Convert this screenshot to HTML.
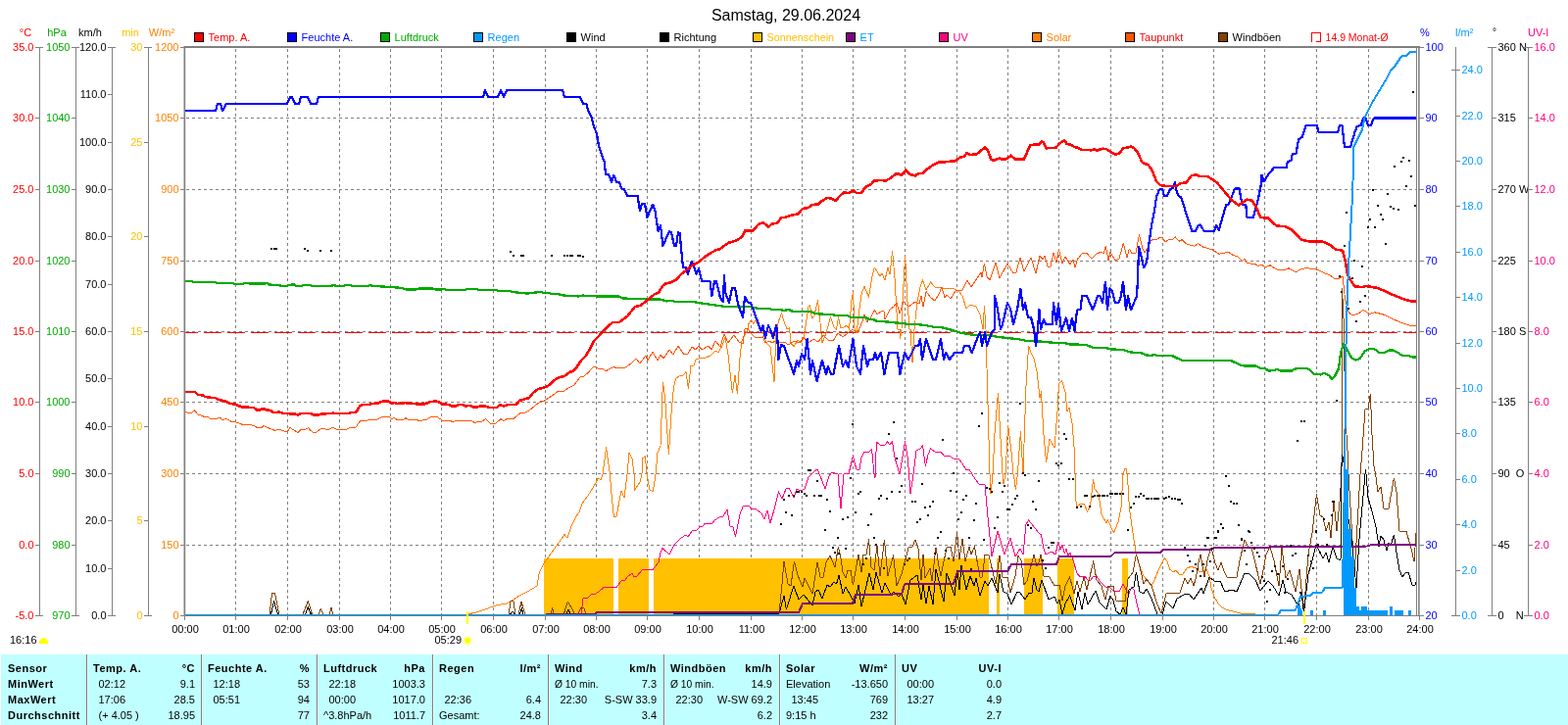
<!DOCTYPE html>
<html lang="de"><head><meta charset="utf-8"><title>Samstag, 29.06.2024</title>
<style>html,body{margin:0;padding:0;background:#fff;overflow:hidden}svg{display:block;font-family:"Liberation Sans",sans-serif;font-size:11px}text{white-space:pre}.c{shape-rendering:crispEdges}.p{fill:none;stroke-linejoin:round;stroke-linecap:butt;shape-rendering:crispEdges}</style></head><body>
<svg width="1600" height="740" viewBox="0 0 1600 740">
<rect x="0" y="0" width="1600" height="740" fill="#fff" />
<text x="802" y="21" fill="#000" text-anchor="middle" font-size="16" xml:space="preserve" >Samstag, 29.06.2024</text>
<g class="c" stroke="#808080" stroke-width="1" stroke-dasharray="3,3">
<line x1="240.5" y1="50" x2="240.5" y2="628"/>
<line x1="293.5" y1="50" x2="293.5" y2="628"/>
<line x1="346.5" y1="50" x2="346.5" y2="628"/>
<line x1="398.5" y1="50" x2="398.5" y2="628"/>
<line x1="450.5" y1="50" x2="450.5" y2="628"/>
<line x1="503.5" y1="50" x2="503.5" y2="628"/>
<line x1="556.5" y1="50" x2="556.5" y2="628"/>
<line x1="608.5" y1="50" x2="608.5" y2="628"/>
<line x1="660.5" y1="50" x2="660.5" y2="628"/>
<line x1="713.5" y1="50" x2="713.5" y2="628"/>
<line x1="766.5" y1="50" x2="766.5" y2="628"/>
<line x1="818.5" y1="50" x2="818.5" y2="628"/>
<line x1="870.5" y1="50" x2="870.5" y2="628"/>
<line x1="923.5" y1="50" x2="923.5" y2="628"/>
<line x1="976.5" y1="50" x2="976.5" y2="628"/>
<line x1="1028.5" y1="50" x2="1028.5" y2="628"/>
<line x1="1080.5" y1="50" x2="1080.5" y2="628"/>
<line x1="1133.5" y1="50" x2="1133.5" y2="628"/>
<line x1="1186.5" y1="50" x2="1186.5" y2="628"/>
<line x1="1238.5" y1="50" x2="1238.5" y2="628"/>
<line x1="1290.5" y1="50" x2="1290.5" y2="628"/>
<line x1="1343.5" y1="50" x2="1343.5" y2="628"/>
<line x1="1396.5" y1="50" x2="1396.5" y2="628"/>
<line x1="190" y1="120.5" x2="1446" y2="120.5"/>
<line x1="190" y1="193.5" x2="1446" y2="193.5"/>
<line x1="190" y1="266.5" x2="1446" y2="266.5"/>
<line x1="190" y1="338.5" x2="1446" y2="338.5"/>
<line x1="190" y1="410.5" x2="1446" y2="410.5"/>
<line x1="190" y1="483.5" x2="1446" y2="483.5"/>
<line x1="190" y1="556.5" x2="1446" y2="556.5"/>
</g>
<g class="c" fill="#FFC000">
<rect x="555" y="570" width="71" height="58"/>
<rect x="631" y="570" width="31" height="58"/>
<rect x="667" y="570" width="342" height="58"/>
<rect x="1017" y="570" width="3" height="58"/>
<rect x="1045" y="570" width="19" height="58"/>
<rect x="1079" y="570" width="17" height="58"/>
<rect x="1145" y="570" width="6" height="58"/>
</g>
<line class="c" x1="188" y1="339.5" x2="1445" y2="339.5" stroke="#FF0000" stroke-width="1" stroke-dasharray="18,6" stroke-dashoffset="4"/>
<polyline class="p" points="477,627 486,625 496,621.6 507,617.6 517,616 524,612 530,608 538,604 548,598 550.4,584 555,575 560,568 568,557 576,545.6 579,549 583,537 588,527 591,523 594,514 600,506 608,493 610,488 613,489.6 615,484 618.6,456.6 622.4,484 624,504 626.4,528 629,527 634,501 637,508 640,484 642,462.4 645,468 647,484 647,501 653,492 655,484 655.6,468 658.4,465.6 660,484 663,500 666.4,501.6 669,484 671,462 674,455 676.4,390 678.6,406 682.4,464 685,422 687.6,394 690,386 693,384 697,383 700,379.6 702.4,397 705,373 708,373 710,367 713,366 720,365 725,363 730,358 733,359.6 737,353 740,344 743,362 747.4,401 750,383 752.4,402 755,365 757,348 760,342 763,336 763,332 766.5,326.5 768.5,330 771,327 774,333 778,338 782,350 786,354 790,390 791.2,360 792,338 794.5,328 797.5,319.5 800,328 803,336 805.5,334.5 807,350 810,354 814,347 817,350 820,346 822.5,330 825,313 826.5,311.5 828.5,325 831,322 834.5,306.5 836,320 837.5,334 839,350 843,340 847.5,323.5 851,334 853.5,336 855.5,323.5 857.5,334 860,335 864,332 866.5,336 869,306 870.5,298.5 872,335 874,340 877,315 879.5,298 882,292.5 886.5,303 890,282 892.4,273 898,282 900,279 903,286 906,273 908,280 910.6,256 913,284 916,336 918,336 918.6,346 920,336 921,308 923.6,261 926,308 928,336 929,336 931,370 933,336 936,308 939,293 941.6,286 945,296 949.6,288 954,293 960,293 963,295 972,294 978,297 982,302 986,315 990,311 996,313 1000,321 1003,336 1004.4,312 1006,336 1007,376 1010,484 1010.4,484 1011,504 1013,484 1015,442 1018.4,401 1023,484 1024,494 1026,484 1028.6,434 1032.4,464 1034,484 1034.4,484 1036.4,500 1038.4,484 1041.4,440 1044,483 1047,394 1049.6,353 1052,360 1055,366 1058,379 1061,406 1062.4,400 1065,444 1067.6,472 1071,448 1076,457 1079,420 1080.4,392 1083.6,388.4 1087,400 1089,420 1091,416 1094,432 1096,456 1097,484 1097,506 1099,517 1103,514 1106,514 1109.6,522 1112.4,517 1115.6,489 1117,499 1121,504 1124,525 1129,534 1130.4,530.4 1136.4,544 1141,533 1144,518 1146,484 1146.5,484 1147.5,478 1149,478 1150,484 1150.4,484 1152.4,519 1156,544 1159,564 1163,579 1167,588 1171,593 1175,598 1178,592 1182,582 1185.6,575 1188.4,569.6 1191,573 1193.6,581 1197,584 1200,582 1203,586 1207,586 1211,580 1215,578.4 1220,579.6 1224,584 1228,583 1231,581 1234,588 1236,600 1239,609 1243,616 1247,620 1252,622.4 1260,624.4 1268,626.4 1281,627" stroke="#FF8000" stroke-width="1"/>
<polyline class="p" points="557,627.6 593,627 595,611 600,610 603,607 607,606.4 611,604 616,599.6 629,599.4 634,593 638,592 640,589 645,585 647,588.4 650,588 655,582 666,581.4 672,574 674,564 676,559.6 683,566 688,556 695,549 700,546 702,548 706,542 711,541 714,537.6 717,537 719,534.6 727,534 729,531 735,527.4 738,527 742,520 745,537 748,538 750.4,548 755,525 758,517 760,516 764,516 767,519.6 772,520 777,524 780,529.6 783,521 786,534 790,520 794.4,502 798,509 802,499 805,498 810,508 813,499 817,501 821,499 825,487 828,484 830,482 834,479 837,486 839,491 842,499 846,486 849,482 852,483 855,484 858,519 861,484 866,483.6 870.4,466 874,479 877,479 879,467 882,461 887,461 889.6,458.4 892,484 893,488 894.4,451 898,454 903,454 905.6,451 908,454 910.4,450.4 913,467 918,484 921,466 923.6,451 926,466 927.6,484 929,504 932,484 935,460 939,458 941.6,455 944.4,476 947,464 949.6,458 954,461 960,461 963,465 969,465.6 973,468 978,468 982,473 986,480 989,479 992,484 995,489 999,494 1005,495 1008,528 1012,568 1018,542 1025,566 1031,549 1036,568 1041,560 1044,566 1047,535 1049.6,531 1060,544 1062.4,546 1065,560 1067,566 1073,563 1077,566 1080,553 1082,561 1084,556 1086.4,565 1088,560 1090,567 1092,564 1095,572 1099,585 1102,589 1107,588.4 1110,592 1113,592 1116,588 1119,588 1122,593 1128,599 1132,599 1137,604 1142,603.6 1146,596 1150,604 1152,606 1154.4,599.6 1157,602 1160,616 1163,627.4" stroke="#FF0080" stroke-width="1"/>
<polyline class="p" points="275,627.75 277.5,605.75 280.5,605.75 285,627.75 308.75,627.75 314.25,613.75 318.75,627.75 325,627.75 327.5,621.25 330,627.75 335.75,627.75 338,620.5 340,627.75 519,627.6 521,614 524,613.6 526,627.6 529,627.6 532,614 536,627.6 561.6,627.6 563.6,621 565.6,627.6 575,627.6 579.4,614 584,622 587,627.6 589,627.6 593,620 596,621 598,627.6 795,626.4 798,596 800,573 804,596 807,598 810.4,573 814,587 819,599 821,590 829,606 834,574 837,589 840,589 843,574 847,567 852,579 855.4,558 858,570 860,584 863,590 865,582 868,582 870.4,597 876,566 879,584 881,566 884,566 886.6,551 889,579 892,582 895,557 898,588 902.4,551 906,588 911.6,567 915,598 920,586 927,559 931,558 934,551 937,560 940,592 942,566 944,590 949,580 951,593 955,559 958,578 960,588 966,559 970,558 973,573 976.6,543 979,571 982,550 985,573 989,558 991,566 994.4,558 1000,589 1002.4,589 1005,566 1009,567 1016,596 1020,567 1023,589 1028,589 1031,605 1036,588 1039,567 1042,572 1045,597 1048,593 1055,566 1058,578 1060,574 1062,566 1065,588 1071,589 1076,598 1081,597 1084,613 1087,598 1091.6,589 1096,606 1099,593 1102,604 1106,589 1109,602 1112,589 1115.6,573 1119,592 1124,598 1128,612 1131,598 1136,598 1139,613 1148,614 1151,591 1156,584 1159.4,566 1163,578 1167,596 1170,591 1175,598 1181,617 1185,626 1190,606 1196,605 1204,605 1209,590 1212,596 1215,590 1218,598 1220.6,589 1223,574 1225,566 1229,589 1232.4,570 1236,559 1240,575 1243,582 1246,574 1249,583 1252,589 1262,589 1265,572 1270,551 1274,559 1277,559 1280,571 1286,596 1289,582 1292,566 1296,558 1300,572 1305,598 1308,559 1312,590 1316,582 1322,604 1326,581 1330.4,624 1335,566 1339,544 1343.4,504 1347,526 1350,528 1353,542 1356,533 1358,549 1361,511 1364,542 1367,512 1369,484 1369.2,336 1369.5,295 1371.6,336 1372,379 1373,426 1375,460 1376,484 1381,568 1382.4,582 1388,484 1390,460 1393,418 1396,417 1398.4,402 1400,444 1402,476 1403.6,484 1406,502 1409,497 1412,519 1417,519 1422.4,488 1425,502 1428,542 1435,542.4 1440,560 1443,573 1445.6,536" stroke="#804000" stroke-width="1"/>
<polyline class="p" points="276.25,627.75 279.5,613.75 283.75,627.75 311.25,627.75 314.25,619.5 317.5,627.75 520,627.6 523,624 526,627.6 530,627.6 532.4,621 534,627.6 577,627.6 580,622.4 582.4,627.6 795,626.4 800,608 802.4,622 810,598 815,612 820,607 829,618 832,604 835,602 839,611 844,597 847,599 851,594 853.6,596 856,587 860,606 863,599 868,608 872,616 876,597 879,619 887,585 891,602 894,584 900,605 903,595 909,607 912,604 917,609 920,606 924,617 929,592 936,587 940,612 942,597 945,616 948,598 952,617 955,581 963,614 966,585 970,596 974,608 977,582 979,602 981,577 986,602 990,588 994,598 996,590 1000,608 1005,593 1008,598 1012,590 1018,605 1020,586 1024,604 1028,606 1032,617 1038,604 1041,605 1046,612 1050,605 1053,605 1055,590 1058,602 1060,604 1063,592 1070,612 1076,609 1079,616 1081,612 1084,627 1087,616 1091.6,608 1097,623 1100,604 1104,622 1107,605 1110,617 1118,603 1122,615 1129,622 1133,608 1136,613 1139,624 1143,627 1146,620 1149,627 1152,602 1157,599 1159.4,584 1163,604 1167,606 1170,601 1175,611 1181,627 1186,627 1190,614 1197,621 1201,611 1208,607 1213,606 1218,612 1226,600 1228,606 1234,589 1239,593 1245,593 1250,604 1257,602 1262,604 1270,585 1275,586 1281,592 1286,603 1294,593 1299,598 1305,608 1309,592 1312,604 1318,607 1325,619 1328,604 1330.4,626 1335,586 1339,572 1343,556 1347,564 1350,570 1353,564 1356,574 1360,558 1364,570 1368,572 1368.6,484 1369.6,464 1371,472 1372,484 1376,530 1378,540 1381,568 1384,600 1387,550 1393,484 1393.4,479 1394,484 1396,508 1400,522 1404,538 1407,558 1409,547 1412,551 1415,562 1417,554 1419,557 1422.4,546 1425,564 1428,582 1431,589 1434,585 1437,584 1441,597 1444,597 1445.6,592" stroke="#000000" stroke-width="1"/>
<polyline class="p" points="557,627.2 606,627.2 609,625.2 760,625.2 815,625.2 819,616 870,616 873,607 920,606.4 923,596.4 973,596 977,583.4 1028,583.4 1032,576 1060,576 1078,576 1081,568 1134,567.6 1137,564.4 1184,564 1187,560.6 1236,560.6 1239,559 1294,559 1296,558 1370,558 1395,557.5 1398.75,556.25 1446.25,556.25" stroke="#800080" stroke-width="2"/>
<polyline class="p" points="188,419.6 192,421.4 196,421 198.6,419 202,423 205,424 209,425.6 212,425.6 215,427.4 222,427 225,426.4 227,429 230.4,427.4 233,428.4 236,430.4 240,430.6 244,432 248,433.6 253,434 255,433.4 259,434.4 263,437 267,436.4 269,434.6 272,436 276,437.6 281,439.6 284,438 289,439.6 293,441 296,436.6 300,439 304,441.6 307,438.4 312,438 314.4,436.6 317,439.6 320,441.4 323,441 327,438 330,437 333,438.6 336,438 339.6,436.4 343,438 346,438.6 354,438 356,437 363,436.4 365,433 368,429.4 375,429 377,428.4 385,428 389,426 392,425.4 397,425.4 400,427.6 402.4,426.4 405,428.4 412,428 414,426.6 416.4,428.4 425,428.6 428,429.4 435,428.4 439,426 446,425.6 449,427.4 451,429 459,429.6 462,430.4 466,429.4 473,429.4 476,430 479,429 482,430 485,432 487,430.4 492,430 495.6,427.4 498,430 500,431.6 500,432.4 506,432 511,427.6 514,430 517,427.6 524,427.4 531,421.6 536,421 540,419 546,414 551,410 555,409.4 560,406 566,402 570,399 576,399 580,396 586,393 592,385 596,384 600,380.4 606,374 610,376 615,376 618,379 622,376.6 626,374.4 630,376 633,375 636,376 640,374 644,371 649,366 653,371 659,363 661,368 666,359 671,368 674,362 677,366 683,357 687,362 692,353 698,362 702,361 706,354 710,357 713,353 716,357 723,353 726,357 730,348 735,354 739,341 743,350 749,342 754,349 758,351 760,336 763,335.5 766,340 770,344 775,345 778.5,344 781,350 785,348 788,350 791,348 794,350 800,349 805,352 810,348 816,350 820,344 825,350 830,346 835,349 840,342 845,347 850,348 855,340 860,344 865,340 870,336 875,340 880,328 882,321 884.5,329 888,325 892.5,316.5 895,321 900,317 902,318 903,326 908,316 912,313 915,309 918,320 922,308 927,313 934,308 938,310 940,302 942,313 945,297.6 950,304 954,307 958,300 961,293 964,304 966,301 970,305 975,297 982,296 987,286 991,293 997,284 1001,278 1002,283 1004.4,269 1007,282 1010,286 1016,268 1020,284 1028,269 1034,279 1037,278 1041,263 1045,277 1052,263 1057,279 1061,261 1064,265 1066,261 1069,272 1072,272 1075,258 1078,268 1080.4,255 1084,269 1087,262 1092,270 1095,265 1097,273 1100,263 1100,264 1104,259 1109,258.6 1114,264 1119,259 1124,257 1126,259 1128.4,251 1131,266 1133,257 1138,266 1142,264 1146.4,248 1150,263 1152.4,254 1155,259 1159,258 1162.4,239.6 1166,254 1168,258 1171,253 1174,246 1177,244 1180,245 1184,242 1186,242.4 1189,247 1192,245 1197,244 1199.4,241.4 1200,243 1203.75,246.25 1206.25,244.5 1210,248.75 1218.75,251.25 1222.5,248.75 1227.5,252 1237.5,255 1243.75,259.25 1250,258 1253.75,257.5 1257.5,260 1262.5,261.75 1267.5,266.25 1270,264.5 1272.5,268.75 1280,269.25 1283.75,271.25 1287.5,270.5 1291.25,272.5 1296.25,270.75 1302.5,275 1311.25,275.5 1315,273.75 1318,275.5 1322.5,278 1327.5,274.5 1332.5,273.75 1342.5,274.5 1350,278 1357.5,281.25 1362.5,285 1367.5,283.75 1370,282 1372.5,305 1376.25,318.75 1380,322 1386.25,320 1391.25,316.25 1397.5,320.75 1402.5,318.75 1412.5,321.25 1420,325 1430,329.5 1440,332.5 1446.25,332.5" stroke="#FF5500" stroke-width="1"/>
<polyline class="p" points="188.75,287 196.25,287 197.5,288 220,288 221.25,289 237.5,289 240,290 247.5,290 250,288.75 253.75,288.75 255,289.5 270,289.5 272.5,288.75 275,290.5 285,291.25 287.5,292 292.5,292 295,290.75 300,290.5 302.5,292 307.5,292 310,291 316.25,291 318.75,292 337.5,292 340,291.25 345,292 350,292 352.5,291 357.5,291 360,292 375,292 377.5,291.25 382.5,292 390,292.5 400,293 410,294 415,295.6 424,295.6 427,294.6 442,294.6 445,295.6 450,295.6 453,295 456,296 474,296 477,295 486,295 489,296 506,296 509,297 520,297 523,298 528,298.6 538,299.6 546,298.6 552,298 555,299 560,299 563,300 569,300 575,301.6 587,302 590,302.6 594,301.6 608,302 610,302.6 632,302.6 636,304.6 660,305 664,305.6 674,305.6 680,307.4 686,307 689,308 708,308 712,309 720,310 740,313 765,313 774,315 785,315 788,316 797,316.2 800,317 802,316.5 805,316 809,318 827,318 832,320 836,320.5 850,321 852,322 865,322 868,324 883,324 886,325.5 892,326.5 895,328 900,328 910,329 920,330 928,331 936,331 946,332.4 954,334 960,334 968,336 972,337 980,339.6 992,341.6 1001,342 1010,342 1016,343.6 1028,345 1040,346.4 1048,348 1060,348.4 1072,349.6 1086,350 1092,351.6 1100,351.6 1108,352 1116,355 1128,355 1134,356.4 1146,357 1154,359.6 1164,360 1169,362.4 1175,363 1178,361.6 1180,363 1196,363 1202,366 1207,368 1256,368 1260,370 1266,372.6 1270,373.6 1282,373.6 1286,376 1291,376.4 1295,378.6 1300,378 1303,377 1307,378.6 1318,378.6 1320,377 1324,376 1333,376 1337,377.6 1341,382 1348,382.4 1351,381 1356,383 1359,387 1362,384 1366,376 1368,360 1371,351 1374,355 1377,362 1380,366 1383.75,367.5 1383.75,367.5 1387.5,366.25 1392.5,358.75 1397.5,355.75 1402.5,356.25 1407.5,360 1412.5,360 1417.5,357.5 1421.25,357.5 1426.25,360 1431.25,363 1437.5,363 1441.25,364.5 1446.25,364.5" stroke="#00AA00" stroke-width="2.3"/>
<polyline class="p" points="188,113 220,113 222,106 225,106 227,113 231,106 293,106 296,99 298,99 301,106 305,106 307,99 314,99 317,106 323,106 325,99 493,99 495,92.4 498,99 508,99 511,92.4 514,99 517,92 574,92 576,99 592,99 595,105.6 598.4,105.6 600,112 603.6,120 606,129 609,137 611,149 614,158 616.6,165 618,177.6 621,177.6 624,186 626.4,179 629,185.6 632,186 634,192.4 637,193 640,199.6 650.4,199.6 653,215 655,207.6 658,208 660.4,222 666,208.6 668.4,215 671.6,236 674,230 676.4,251 683,236 685,237 688,251 690,251 692,237 693.6,238 697,273 700,273.4 702,279.6 705.6,267 708,272 710.4,279.6 713,274 716,286.6 724.4,286.6 726.4,302 729,287.4 731,287.4 735,304 735,304 738,308 739,281 740,298 744,309 747,294 750,294 753,310 758,324 760,303 763.5,309 766,309 769,317 776.5,338 778.5,332 781,345 784,332 786,336 789,345 792,332 793,338 794.4,367 797,352 800,353 810,382 813,368 815,374 818,361 821,367 823.6,346 827,382 829,368 833.6,389 839,368 843,382 845,374 848,382 850.4,382 856,353 860,374 863,368 865.6,375 870.4,346 874,374 878,382 881,353 885,374 887,367 891,367 893,360 895,367 899,360 902.4,382 907,360 916,360 918.4,382 923,360 927,367 934,353 937,353 939,346 941,367 945,346 952,367 955,367 960,346 963,367 965,360 969,367 974,360 982,360 984,353 989,353 991.6,360 997,346 1000,339 1002,353 1005,339 1007,353 1012,339 1015,336 1015,302 1018,316 1021,336 1023,331 1028,309 1031,315 1034,331 1038,316 1041.4,295 1044,316 1046,309 1049,324 1052,324 1055,336 1057,353 1059,336 1060.4,316 1062,336 1065,326 1067,331 1074,331 1075,309 1078,331 1080,310 1083,338 1088,324.5 1091,338 1094,324.5 1096.5,338 1099,316.5 1102.5,316 1104,302 1109,302 1115,316.5 1120,302 1122.5,302 1125,309 1128,287.5 1130,316.5 1132.5,294.5 1134.5,296 1138,309 1141.5,309 1144,302 1146,287.5 1149,316.5 1151,302 1154,316.5 1160,302 1161,284.5 1162,252 1164,259 1167,273 1170,268 1172,252 1175,230 1178,215 1180,201 1183,193.6 1186,193 1188,200 1191,200 1194,193 1197,192 1199,186 1200,192.5 1202.5,200 1205,201.25 1207.5,208.75 1216.25,236.25 1220,236.25 1222.5,230 1225,229.5 1228.75,236.25 1238.75,236.25 1241.25,230 1243.75,235 1251.25,208.75 1253.75,208.75 1260,192.5 1264.5,192.5 1267.5,208.75 1271.25,208.75 1272.5,222 1278.75,222 1283.75,203.75 1287.5,185 1287.5,178.75 1290,185 1293.75,178.75 1300,171.25 1312.5,171.25 1313.75,165 1317.5,163.75 1318.75,157.5 1322.5,157 1325,142.5 1328.75,140 1332.5,128 1343.75,128 1345.5,135 1365,135 1367,128 1369.5,128 1372,150 1378,150 1382.5,135 1385,128.75 1388.75,128 1391.25,120.5 1393.75,121.25 1396.25,128 1398.75,128 1402,120.5 1446.25,120.5" stroke="#0000FF" stroke-width="2.2"/>
<polyline class="p" points="188,400 199,400 202,403 207,403.4 209,405 213,405.4 215,406 220,406 222,407.6 228,409 232,410.4 235,412 240,412.6 244,414.4 248,415.6 259,416 262,418.4 265,418.4 269,417 272,418.4 276,419 279,421 283,421 285,420.4 289,422 301,422.4 304,423.6 307,422 317,422 320,423.6 325,423.6 328,422.4 338,422 340,421.6 342,422 356,422 358,421 363,421 365,418 367,414.6 370,413 377,413 379,412 386,411.6 389,410 392,409.4 396,409.6 400,411.6 403,411 405,412 412,411.6 414,411 416,411.6 423,412 426,412.6 433,412.4 437,411 439,410 445,409.6 449,411 451,412.4 458,413 461,414.6 465,414.6 468,413 472,413 475,414.6 478,414 480,414 483,415.6 487,415.6 490,414.6 495,414.4 498,415.6 500,416 507,416 510,413 514,414.6 518,413 527,413 530,409 535,407.6 540,406 544,401 549,397 554,396 559,394 567,387 571,385 576,384 581,380 584,379 587,377 593,368 598,363 603,354 606,348 611,343 616,337 617,336.4 625,329 632,329 640,323 648,313 654,311.6 662,305 662,305.6 668,300 672,299 676,292 679,289.6 684,288.4 690,285.6 695,280 700,276 706,271 712,268 720,261.6 724,259 730,255.6 735,254 740,250 744,247.6 751,245.6 757,242 760,235.6 768,235.6 774,229 779,227 784,231.6 788,228.4 793,228 797,222.4 802,221.6 806,220 814,218.4 819,213 825,212 829,209 835,208.4 838,205.6 844,202 848,202.4 852.4,205 857,200 861,196.4 866,197 871,194.4 874,197 879,197 883,191 889,188 892,184.4 900,184 903.75,184.5 907.5,182.5 915,177 920,178.75 924.5,173.75 928.75,178 933.75,179.5 937.5,177 941.25,177 946.25,172.5 952.5,168.25 957.5,165.5 962.5,165.5 975,164.25 980,160.5 983.75,160 986.25,156.25 990,158 996.25,157.5 1005,150.5 1007.5,152.5 1011.25,162.5 1013.75,163.75 1017.5,162.5 1020,161.25 1022.5,163 1027.5,162 1031.25,158.75 1036.25,162.5 1045,162.5 1051.25,148 1060,147.5 1063,144.5 1065,145.5 1067.5,151.25 1077.5,150.75 1081.25,146.25 1086.25,143.25 1088.75,147 1092.5,147.5 1096.25,150 1100,150.75 1103.75,153 1113.75,153.25 1117,152 1118.75,153.75 1125,151.75 1128.75,152 1132.5,154.5 1137.5,157.5 1142,157 1146.25,151.25 1150,150.75 1153.75,149.5 1157,150.75 1161.25,156.25 1165,165 1167.5,167 1171.25,168 1175,172.5 1180,185 1184,189 1190,190 1200,190 1205,187 1210,186.6 1216,179 1221,178.4 1224,180 1232,180 1238,183.6 1242,186.6 1250,196.25 1256.25,203.75 1263.75,209.5 1272.5,203.75 1277.5,204.5 1282.5,212.5 1286.25,222 1293.75,222.5 1302.5,230.5 1311.25,231.25 1318.75,235 1327.5,244.5 1335,246.25 1350,246.75 1357.5,250 1362.5,254.5 1370,255.75 1372.5,265 1375,280 1377.5,285 1382.5,292.5 1390,293 1393.75,292 1405,293.75 1412.5,296.75 1417.5,299.5 1425,302.5 1432.5,305.5 1440,307.5 1446.25,307.5" stroke="#FF0000" stroke-width="2.6"/>
<polyline class="p" points="188,627.8 1304,627.8 1307,623 1322,622.6 1327,609 1337,608 1340,605 1349,604.6 1352,600 1370,599.6 1370,599.6 1371,544 1372,484 1373.25,370 1373.75,335 1375,297.5 1376.25,267.5 1378,237.5 1379.5,210 1380.5,185 1381.25,150 1385,142.5 1390,132.5 1392.5,120 1400,105 1407.5,92.5 1415,80 1418.75,72.5 1422.5,68.75 1430,57.5 1435,57 1438.75,53 1446.25,53" stroke="#0099FF" stroke-width="2"/>
<g class="c" fill="#0099FF">
<rect x="1324" y="618" width="3" height="10"/>
<rect x="1327" y="621" width="1" height="7"/>
<rect x="1328" y="623" width="1" height="5"/>
<rect x="1337" y="623" width="3" height="5"/>
<rect x="1350" y="623" width="3" height="5"/>
<rect x="1371" y="479" width="5" height="149"/>
<rect x="1376" y="540" width="3" height="88"/>
<rect x="1379" y="568" width="3" height="60"/>
<rect x="1382" y="600" width="2" height="28"/>
<rect x="1384" y="619" width="3" height="9"/>
<rect x="1387" y="623" width="2" height="5"/>
<rect x="1389" y="619" width="6" height="9"/>
<rect x="1395" y="623" width="21" height="5"/>
<rect x="1418" y="619" width="3" height="9"/>
<rect x="1423" y="623" width="9" height="5"/>
<rect x="1437" y="623" width="3" height="5"/>
</g>
<g class="c" fill="#000">
<rect x="796" y="534" width="2" height="2"/>
<rect x="799" y="509" width="2" height="2"/>
<rect x="801" y="522" width="2" height="2"/>
<rect x="804" y="505" width="2" height="2"/>
<rect x="807" y="525" width="2" height="2"/>
<rect x="809" y="505" width="2" height="2"/>
<rect x="812" y="501" width="2" height="2"/>
<rect x="814" y="501" width="2" height="2"/>
<rect x="817" y="501" width="2" height="2"/>
<rect x="820" y="503" width="2" height="2"/>
<rect x="822" y="505" width="2" height="2"/>
<rect x="830" y="505" width="2" height="2"/>
<rect x="835" y="505" width="2" height="2"/>
<rect x="837" y="505" width="2" height="2"/>
<rect x="833" y="490" width="2" height="2"/>
<rect x="843" y="509" width="2" height="2"/>
<rect x="841" y="540" width="2" height="2"/>
<rect x="846" y="521" width="2" height="2"/>
<rect x="849" y="558" width="2" height="2"/>
<rect x="851" y="563" width="2" height="2"/>
<rect x="854" y="548" width="2" height="2"/>
<rect x="855" y="564" width="2" height="2"/>
<rect x="859" y="529" width="2" height="2"/>
<rect x="862" y="559" width="2" height="2"/>
<rect x="864" y="527" width="2" height="2"/>
<rect x="867" y="487" width="2" height="2"/>
<rect x="872" y="522" width="2" height="2"/>
<rect x="875" y="503" width="2" height="2"/>
<rect x="877" y="501" width="2" height="2"/>
<rect x="880" y="575" width="2" height="2"/>
<rect x="883" y="569" width="2" height="2"/>
<rect x="885" y="535" width="2" height="2"/>
<rect x="888" y="524" width="2" height="2"/>
<rect x="891" y="548" width="2" height="2"/>
<rect x="893" y="555" width="2" height="2"/>
<rect x="896" y="508" width="2" height="2"/>
<rect x="898" y="505" width="2" height="2"/>
<rect x="901" y="579" width="2" height="2"/>
<rect x="904" y="508" width="2" height="2"/>
<rect x="909" y="501" width="2" height="2"/>
<rect x="917" y="501" width="2" height="2"/>
<rect x="919" y="495" width="2" height="2"/>
<rect x="922" y="575" width="2" height="2"/>
<rect x="925" y="571" width="2" height="2"/>
<rect x="927" y="569" width="2" height="2"/>
<rect x="930" y="511" width="2" height="2"/>
<rect x="933" y="511" width="2" height="2"/>
<rect x="935" y="532" width="2" height="2"/>
<rect x="938" y="529" width="2" height="2"/>
<rect x="940" y="493" width="2" height="2"/>
<rect x="943" y="517" width="2" height="2"/>
<rect x="946" y="525" width="2" height="2"/>
<rect x="948" y="516" width="2" height="2"/>
<rect x="951" y="511" width="2" height="2"/>
<rect x="953" y="564" width="2" height="2"/>
<rect x="956" y="548" width="2" height="2"/>
<rect x="959" y="542" width="2" height="2"/>
<rect x="964" y="561" width="2" height="2"/>
<rect x="967" y="569" width="2" height="2"/>
<rect x="969" y="500" width="2" height="2"/>
<rect x="975" y="501" width="2" height="2"/>
<rect x="977" y="529" width="2" height="2"/>
<rect x="980" y="522" width="2" height="2"/>
<rect x="982" y="509" width="2" height="2"/>
<rect x="985" y="505" width="2" height="2"/>
<rect x="988" y="548" width="2" height="2"/>
<rect x="990" y="580" width="2" height="2"/>
<rect x="993" y="530" width="2" height="2"/>
<rect x="995" y="513" width="2" height="2"/>
<rect x="1003" y="550" width="2" height="2"/>
<rect x="1006" y="497" width="2" height="2"/>
<rect x="1009" y="498" width="2" height="2"/>
<rect x="1011" y="501" width="2" height="2"/>
<rect x="1014" y="538" width="2" height="2"/>
<rect x="1017" y="527" width="2" height="2"/>
<rect x="1019" y="492" width="2" height="2"/>
<rect x="1022" y="501" width="2" height="2"/>
<rect x="1024" y="495" width="2" height="2"/>
<rect x="1027" y="519" width="2" height="2"/>
<rect x="1029" y="519" width="2" height="2"/>
<rect x="1032" y="514" width="2" height="2"/>
<rect x="1035" y="508" width="2" height="2"/>
<rect x="1037" y="505" width="2" height="2"/>
<rect x="1045" y="484" width="2" height="2"/>
<rect x="1048" y="535" width="2" height="2"/>
<rect x="1051" y="538" width="2" height="2"/>
<rect x="1053" y="511" width="2" height="2"/>
<rect x="1056" y="519" width="2" height="2"/>
<rect x="1059" y="490" width="2" height="2"/>
<rect x="1063" y="571" width="2" height="2"/>
<rect x="1066" y="579" width="2" height="2"/>
<rect x="1069" y="558" width="2" height="2"/>
<rect x="1072" y="553" width="2" height="2"/>
<rect x="1074" y="553" width="2" height="2"/>
<rect x="1090" y="488" width="2" height="2"/>
<rect x="1094" y="488" width="2" height="2"/>
<rect x="1098" y="517" width="2" height="2"/>
<rect x="1102" y="516" width="2" height="2"/>
<rect x="1106" y="505" width="2" height="2"/>
<rect x="1108" y="505" width="2" height="2"/>
<rect x="1111" y="516" width="2" height="2"/>
<rect x="1114" y="506" width="2" height="2"/>
<rect x="1116" y="505" width="2" height="2"/>
<rect x="1119" y="505" width="2" height="2"/>
<rect x="1121" y="505" width="2" height="2"/>
<rect x="1124" y="505" width="2" height="2"/>
<rect x="1126" y="505" width="2" height="2"/>
<rect x="1129" y="505" width="2" height="2"/>
<rect x="1132" y="503" width="2" height="2"/>
<rect x="1134" y="503" width="2" height="2"/>
<rect x="1137" y="503" width="2" height="2"/>
<rect x="1139" y="503" width="2" height="2"/>
<rect x="1142" y="503" width="2" height="2"/>
<rect x="1145" y="503" width="2" height="2"/>
<rect x="1150" y="540" width="2" height="2"/>
<rect x="1153" y="517" width="2" height="2"/>
<rect x="1156" y="513" width="2" height="2"/>
<rect x="1158" y="506" width="2" height="2"/>
<rect x="1161" y="506" width="2" height="2"/>
<rect x="1163" y="503" width="2" height="2"/>
<rect x="1166" y="505" width="2" height="2"/>
<rect x="1169" y="508" width="2" height="2"/>
<rect x="1171" y="508" width="2" height="2"/>
<rect x="1174" y="508" width="2" height="2"/>
<rect x="1177" y="508" width="2" height="2"/>
<rect x="1179" y="508" width="2" height="2"/>
<rect x="1181" y="508" width="2" height="2"/>
<rect x="1187" y="508" width="2" height="2"/>
<rect x="1189" y="507" width="2" height="2"/>
<rect x="1192" y="506" width="2" height="2"/>
<rect x="1195" y="508" width="2" height="2"/>
<rect x="1198" y="508" width="2" height="2"/>
<rect x="1201" y="509" width="2" height="2"/>
<rect x="1203" y="509" width="2" height="2"/>
<rect x="1205" y="513" width="2" height="2"/>
<rect x="1208" y="558" width="2" height="2"/>
<rect x="1211" y="566" width="2" height="2"/>
<rect x="1213" y="572" width="2" height="2"/>
<rect x="1216" y="582" width="2" height="2"/>
<rect x="1219" y="575" width="2" height="2"/>
<rect x="1221" y="580" width="2" height="2"/>
<rect x="1224" y="587" width="2" height="2"/>
<rect x="1227" y="575" width="2" height="2"/>
<rect x="1229" y="556" width="2" height="2"/>
<rect x="1232" y="548" width="2" height="2"/>
<rect x="1234" y="572" width="2" height="2"/>
<rect x="1236" y="559" width="2" height="2"/>
<rect x="1240" y="548" width="2" height="2"/>
<rect x="1242" y="542" width="2" height="2"/>
<rect x="1245" y="534" width="2" height="2"/>
<rect x="1247" y="538" width="2" height="2"/>
<rect x="1250" y="485" width="2" height="2"/>
<rect x="1253" y="495" width="2" height="2"/>
<rect x="1255" y="511" width="2" height="2"/>
<rect x="1258" y="513" width="2" height="2"/>
<rect x="1261" y="513" width="2" height="2"/>
<rect x="1263" y="535" width="2" height="2"/>
<rect x="1266" y="550" width="2" height="2"/>
<rect x="1269" y="561" width="2" height="2"/>
<rect x="1271" y="575" width="2" height="2"/>
<rect x="1274" y="542" width="2" height="2"/>
<rect x="1276" y="553" width="2" height="2"/>
<rect x="1279" y="559" width="2" height="2"/>
<rect x="1282" y="563" width="2" height="2"/>
<rect x="1284" y="567" width="2" height="2"/>
<rect x="1287" y="588" width="2" height="2"/>
<rect x="1289" y="592" width="2" height="2"/>
<rect x="1292" y="613" width="2" height="2"/>
<rect x="1295" y="601" width="2" height="2"/>
<rect x="1297" y="582" width="2" height="2"/>
<rect x="1300" y="577" width="2" height="2"/>
<rect x="1303" y="585" width="2" height="2"/>
<rect x="1308" y="577" width="2" height="2"/>
<rect x="1310" y="604" width="2" height="2"/>
<rect x="1313" y="590" width="2" height="2"/>
<rect x="1316" y="556" width="2" height="2"/>
<rect x="1318" y="566" width="2" height="2"/>
<rect x="1321" y="564" width="2" height="2"/>
<rect x="1326" y="604" width="2" height="2"/>
<rect x="1334" y="566" width="2" height="2"/>
<rect x="1337" y="572" width="2" height="2"/>
<rect x="1339" y="579" width="2" height="2"/>
<rect x="1342" y="542" width="2" height="2"/>
<rect x="1344" y="555" width="2" height="2"/>
<rect x="1346" y="563" width="2" height="2"/>
<rect x="1350" y="529" width="2" height="2"/>
<rect x="1353" y="555" width="2" height="2"/>
<rect x="1358" y="525" width="2" height="2"/>
<rect x="1360" y="511" width="2" height="2"/>
<rect x="1363" y="408" width="2" height="2"/>
<rect x="1441" y="93" width="2" height="2"/>
<rect x="1422" y="169" width="2" height="2"/>
<rect x="1429" y="164" width="2" height="2"/>
<rect x="1431" y="160" width="2" height="2"/>
<rect x="1437" y="163" width="2" height="2"/>
<rect x="1439" y="179" width="2" height="2"/>
<rect x="1434" y="189" width="2" height="2"/>
<rect x="1400" y="193" width="2" height="2"/>
<rect x="1415" y="197" width="2" height="2"/>
<rect x="1405" y="209" width="2" height="2"/>
<rect x="1418" y="210" width="2" height="2"/>
<rect x="1421" y="212" width="2" height="2"/>
<rect x="1426" y="213" width="2" height="2"/>
<rect x="1443" y="209" width="2" height="2"/>
<rect x="1373" y="216" width="2" height="2"/>
<rect x="1408" y="218" width="2" height="2"/>
<rect x="1397" y="223" width="2" height="2"/>
<rect x="1410" y="223" width="2" height="2"/>
<rect x="1395" y="231" width="2" height="2"/>
<rect x="1402" y="231" width="2" height="2"/>
<rect x="1413" y="248" width="2" height="2"/>
<rect x="1371" y="250" width="2" height="2"/>
<rect x="1381" y="265" width="2" height="2"/>
<rect x="1389" y="271" width="2" height="2"/>
<rect x="1366" y="281" width="2" height="2"/>
<rect x="1379" y="283" width="2" height="2"/>
<rect x="1368" y="297" width="2" height="2"/>
<rect x="1392" y="301" width="2" height="2"/>
<rect x="1387" y="307" width="2" height="2"/>
<rect x="1375" y="314" width="2" height="2"/>
<rect x="1383" y="327" width="2" height="2"/>
<rect x="1363" y="408" width="2" height="2"/>
<rect x="1327" y="429" width="2" height="2"/>
<rect x="1330" y="429" width="2" height="2"/>
<rect x="1323" y="449" width="2" height="2"/>
<rect x="1250" y="485" width="2" height="2"/>
<rect x="1253" y="495" width="2" height="2"/>
<rect x="1255" y="511" width="2" height="2"/>
<rect x="1258" y="513" width="2" height="2"/>
<rect x="1261" y="513" width="2" height="2"/>
<rect x="1201" y="509" width="2" height="2"/>
<rect x="1205" y="513" width="2" height="2"/>
<rect x="1245" y="534" width="2" height="2"/>
<rect x="1247" y="538" width="2" height="2"/>
<rect x="1263" y="535" width="2" height="2"/>
<rect x="1242" y="541" width="2" height="2"/>
<rect x="1273" y="541" width="2" height="2"/>
<rect x="1231" y="548" width="2" height="2"/>
<rect x="1239" y="548" width="2" height="2"/>
<rect x="1266" y="549" width="2" height="2"/>
<rect x="1276" y="553" width="2" height="2"/>
<rect x="1342" y="541" width="2" height="2"/>
<rect x="1350" y="529" width="2" height="2"/>
<rect x="1358" y="525" width="2" height="2"/>
<rect x="1359" y="511" width="2" height="2"/>
<rect x="1366" y="281" width="2" height="2"/>
<rect x="1368" y="297" width="2" height="2"/>
<rect x="826" y="479" width="2" height="2"/>
<rect x="824" y="479" width="2" height="2"/>
<rect x="869" y="432" width="2" height="2"/>
<rect x="906" y="442" width="2" height="2"/>
<rect x="911" y="430" width="2" height="2"/>
<rect x="914" y="467" width="2" height="2"/>
<rect x="961" y="448" width="2" height="2"/>
<rect x="972" y="482" width="2" height="2"/>
<rect x="998" y="434" width="2" height="2"/>
<rect x="1001" y="421" width="2" height="2"/>
<rect x="1040" y="411" width="2" height="2"/>
<rect x="1043" y="482" width="2" height="2"/>
<rect x="1077" y="472" width="2" height="2"/>
<rect x="1079" y="474" width="2" height="2"/>
<rect x="1082" y="472" width="2" height="2"/>
<rect x="1085" y="442" width="2" height="2"/>
<rect x="1087" y="447" width="2" height="2"/>
<rect x="276" y="253" width="2" height="2"/>
<rect x="279" y="253" width="2" height="2"/>
<rect x="281" y="253" width="2" height="2"/>
<rect x="310" y="253" width="2" height="2"/>
<rect x="313" y="255" width="2" height="2"/>
<rect x="326" y="255" width="2" height="2"/>
<rect x="337" y="255" width="2" height="2"/>
<rect x="520" y="256" width="2" height="2"/>
<rect x="523" y="260" width="2" height="2"/>
<rect x="531" y="260" width="2" height="2"/>
<rect x="533" y="260" width="2" height="2"/>
<rect x="562" y="260" width="2" height="2"/>
<rect x="575" y="260" width="2" height="2"/>
<rect x="578" y="260" width="2" height="2"/>
<rect x="581" y="260" width="2" height="2"/>
<rect x="583" y="260" width="2" height="2"/>
<rect x="589" y="260" width="2" height="2"/>
<rect x="591" y="260" width="2" height="2"/>
<rect x="594" y="261" width="2" height="2"/>
</g>
<g class="c">
<rect x="187.5" y="47" width="1.7" height="582" fill="#808080" shape-rendering="auto"/>
<rect x="188" y="47" width="1261" height="2" fill="#808080" />
<rect x="1445" y="48" width="1" height="580" fill="#808080" />
<rect x="1447.1" y="47" width="1.6" height="582" fill="#808080" shape-rendering="auto"/>
<rect x="188" y="628" width="1260" height="1" fill="#808080" />
</g>
<g class="c">
<rect x="40" y="48" width="1" height="581" fill="#808080" />
<rect x="36" y="48" width="8" height="1" fill="#808080" />
<rect x="36" y="120" width="4" height="1" fill="#808080" />
<rect x="36" y="193" width="4" height="1" fill="#808080" />
<rect x="36" y="266" width="4" height="1" fill="#808080" />
<rect x="36" y="338" width="4" height="1" fill="#808080" />
<rect x="36" y="410" width="4" height="1" fill="#808080" />
<rect x="36" y="483" width="4" height="1" fill="#808080" />
<rect x="36" y="556" width="4" height="1" fill="#808080" />
<rect x="36" y="628" width="8" height="1" fill="#808080" />
</g>
<text x="34.5" y="52.3" fill="#FF0000" text-anchor="end" font-size="11" xml:space="preserve" >35.0</text>
<text x="34.5" y="124.3" fill="#FF0000" text-anchor="end" font-size="11" xml:space="preserve" >30.0</text>
<text x="34.5" y="197.3" fill="#FF0000" text-anchor="end" font-size="11" xml:space="preserve" >25.0</text>
<text x="34.5" y="270.3" fill="#FF0000" text-anchor="end" font-size="11" xml:space="preserve" >20.0</text>
<text x="34.5" y="342.3" fill="#FF0000" text-anchor="end" font-size="11" xml:space="preserve" >15.0</text>
<text x="34.5" y="414.3" fill="#FF0000" text-anchor="end" font-size="11" xml:space="preserve" >10.0</text>
<text x="34.5" y="487.3" fill="#FF0000" text-anchor="end" font-size="11" xml:space="preserve" >5.0</text>
<text x="34.5" y="560.3" fill="#FF0000" text-anchor="end" font-size="11" xml:space="preserve" >0.0</text>
<text x="34.5" y="632.3" fill="#FF0000" text-anchor="end" font-size="11" xml:space="preserve" >-5.0</text>
<g class="c">
<rect x="77" y="48" width="1" height="581" fill="#808080" />
<rect x="73" y="48" width="8" height="1" fill="#808080" />
<rect x="73" y="120" width="4" height="1" fill="#808080" />
<rect x="73" y="193" width="4" height="1" fill="#808080" />
<rect x="73" y="266" width="4" height="1" fill="#808080" />
<rect x="73" y="338" width="4" height="1" fill="#808080" />
<rect x="73" y="410" width="4" height="1" fill="#808080" />
<rect x="73" y="483" width="4" height="1" fill="#808080" />
<rect x="73" y="556" width="4" height="1" fill="#808080" />
<rect x="73" y="628" width="8" height="1" fill="#808080" />
</g>
<text x="71.5" y="52.3" fill="#00AA00" text-anchor="end" font-size="11" xml:space="preserve" >1050</text>
<text x="71.5" y="124.3" fill="#00AA00" text-anchor="end" font-size="11" xml:space="preserve" >1040</text>
<text x="71.5" y="197.3" fill="#00AA00" text-anchor="end" font-size="11" xml:space="preserve" >1030</text>
<text x="71.5" y="270.3" fill="#00AA00" text-anchor="end" font-size="11" xml:space="preserve" >1020</text>
<text x="71.5" y="342.3" fill="#00AA00" text-anchor="end" font-size="11" xml:space="preserve" >1010</text>
<text x="71.5" y="414.3" fill="#00AA00" text-anchor="end" font-size="11" xml:space="preserve" >1000</text>
<text x="71.5" y="487.3" fill="#00AA00" text-anchor="end" font-size="11" xml:space="preserve" >990</text>
<text x="71.5" y="560.3" fill="#00AA00" text-anchor="end" font-size="11" xml:space="preserve" >980</text>
<text x="71.5" y="632.3" fill="#00AA00" text-anchor="end" font-size="11" xml:space="preserve" >970</text>
<g class="c">
<rect x="114" y="48" width="1" height="581" fill="#808080" />
<rect x="110" y="48" width="8" height="1" fill="#808080" />
<rect x="110" y="96" width="4" height="1" fill="#808080" />
<rect x="110" y="145" width="4" height="1" fill="#808080" />
<rect x="110" y="193" width="4" height="1" fill="#808080" />
<rect x="110" y="241" width="4" height="1" fill="#808080" />
<rect x="110" y="290" width="4" height="1" fill="#808080" />
<rect x="110" y="338" width="4" height="1" fill="#808080" />
<rect x="110" y="386" width="4" height="1" fill="#808080" />
<rect x="110" y="435" width="4" height="1" fill="#808080" />
<rect x="110" y="483" width="4" height="1" fill="#808080" />
<rect x="110" y="531" width="4" height="1" fill="#808080" />
<rect x="110" y="580" width="4" height="1" fill="#808080" />
<rect x="110" y="628" width="8" height="1" fill="#808080" />
</g>
<text x="108.5" y="52.3" fill="#000" text-anchor="end" font-size="11" xml:space="preserve" >120.0</text>
<text x="108.5" y="100.3" fill="#000" text-anchor="end" font-size="11" xml:space="preserve" >110.0</text>
<text x="108.5" y="149.3" fill="#000" text-anchor="end" font-size="11" xml:space="preserve" >100.0</text>
<text x="108.5" y="197.3" fill="#000" text-anchor="end" font-size="11" xml:space="preserve" >90.0</text>
<text x="108.5" y="245.3" fill="#000" text-anchor="end" font-size="11" xml:space="preserve" >80.0</text>
<text x="108.5" y="294.3" fill="#000" text-anchor="end" font-size="11" xml:space="preserve" >70.0</text>
<text x="108.5" y="342.3" fill="#000" text-anchor="end" font-size="11" xml:space="preserve" >60.0</text>
<text x="108.5" y="390.3" fill="#000" text-anchor="end" font-size="11" xml:space="preserve" >50.0</text>
<text x="108.5" y="439.3" fill="#000" text-anchor="end" font-size="11" xml:space="preserve" >40.0</text>
<text x="108.5" y="487.3" fill="#000" text-anchor="end" font-size="11" xml:space="preserve" >30.0</text>
<text x="108.5" y="535.3" fill="#000" text-anchor="end" font-size="11" xml:space="preserve" >20.0</text>
<text x="108.5" y="584.3" fill="#000" text-anchor="end" font-size="11" xml:space="preserve" >10.0</text>
<text x="108.5" y="632.3" fill="#000" text-anchor="end" font-size="11" xml:space="preserve" >0.0</text>
<g class="c">
<rect x="151" y="48" width="1" height="581" fill="#808080" />
<rect x="147" y="48" width="8" height="1" fill="#808080" />
<rect x="147" y="145" width="4" height="1" fill="#808080" />
<rect x="147" y="241" width="4" height="1" fill="#808080" />
<rect x="147" y="338" width="4" height="1" fill="#808080" />
<rect x="147" y="435" width="4" height="1" fill="#808080" />
<rect x="147" y="531" width="4" height="1" fill="#808080" />
<rect x="147" y="628" width="8" height="1" fill="#808080" />
</g>
<text x="145.5" y="52.3" fill="#FFC000" text-anchor="end" font-size="11" xml:space="preserve" >30</text>
<text x="145.5" y="149.3" fill="#FFC000" text-anchor="end" font-size="11" xml:space="preserve" >25</text>
<text x="145.5" y="245.3" fill="#FFC000" text-anchor="end" font-size="11" xml:space="preserve" >20</text>
<text x="145.5" y="342.3" fill="#FFC000" text-anchor="end" font-size="11" xml:space="preserve" >15</text>
<text x="145.5" y="439.3" fill="#FFC000" text-anchor="end" font-size="11" xml:space="preserve" >10</text>
<text x="145.5" y="535.3" fill="#FFC000" text-anchor="end" font-size="11" xml:space="preserve" >5</text>
<text x="145.5" y="632.3" fill="#FFC000" text-anchor="end" font-size="11" xml:space="preserve" >0</text>
<g class="c">
<rect x="184" y="48" width="4" height="1" fill="#808080" />
<rect x="184" y="120" width="4" height="1" fill="#808080" />
<rect x="184" y="193" width="4" height="1" fill="#808080" />
<rect x="184" y="266" width="4" height="1" fill="#808080" />
<rect x="184" y="338" width="4" height="1" fill="#808080" />
<rect x="184" y="410" width="4" height="1" fill="#808080" />
<rect x="184" y="483" width="4" height="1" fill="#808080" />
<rect x="184" y="556" width="4" height="1" fill="#808080" />
<rect x="184" y="628" width="4" height="1" fill="#808080" />
</g>
<text x="182.5" y="52.3" fill="#FF8000" text-anchor="end" font-size="11" xml:space="preserve" >1200</text>
<text x="182.5" y="124.3" fill="#FF8000" text-anchor="end" font-size="11" xml:space="preserve" >1050</text>
<text x="182.5" y="197.3" fill="#FF8000" text-anchor="end" font-size="11" xml:space="preserve" >900</text>
<text x="182.5" y="270.3" fill="#FF8000" text-anchor="end" font-size="11" xml:space="preserve" >750</text>
<text x="182.5" y="342.3" fill="#FF8000" text-anchor="end" font-size="11" xml:space="preserve" >600</text>
<text x="182.5" y="414.3" fill="#FF8000" text-anchor="end" font-size="11" xml:space="preserve" >450</text>
<text x="182.5" y="487.3" fill="#FF8000" text-anchor="end" font-size="11" xml:space="preserve" >300</text>
<text x="182.5" y="560.3" fill="#FF8000" text-anchor="end" font-size="11" xml:space="preserve" >150</text>
<text x="182.5" y="632.3" fill="#FF8000" text-anchor="end" font-size="11" xml:space="preserve" >0</text>
<g class="c">
<rect x="1448" y="48" width="5" height="1" fill="#808080" />
<rect x="1448" y="120" width="5" height="1" fill="#808080" />
<rect x="1448" y="193" width="5" height="1" fill="#808080" />
<rect x="1448" y="266" width="5" height="1" fill="#808080" />
<rect x="1448" y="338" width="5" height="1" fill="#808080" />
<rect x="1448" y="410" width="5" height="1" fill="#808080" />
<rect x="1448" y="483" width="5" height="1" fill="#808080" />
<rect x="1448" y="556" width="5" height="1" fill="#808080" />
<rect x="1448" y="628" width="5" height="1" fill="#808080" />
</g>
<text x="1454.5" y="52.3" fill="#0000FF" text-anchor="start" font-size="11" xml:space="preserve" >100</text>
<text x="1454.5" y="124.3" fill="#0000FF" text-anchor="start" font-size="11" xml:space="preserve" >90</text>
<text x="1454.5" y="197.3" fill="#0000FF" text-anchor="start" font-size="11" xml:space="preserve" >80</text>
<text x="1454.5" y="270.3" fill="#0000FF" text-anchor="start" font-size="11" xml:space="preserve" >70</text>
<text x="1454.5" y="342.3" fill="#0000FF" text-anchor="start" font-size="11" xml:space="preserve" >60</text>
<text x="1454.5" y="414.3" fill="#0000FF" text-anchor="start" font-size="11" xml:space="preserve" >50</text>
<text x="1454.5" y="487.3" fill="#0000FF" text-anchor="start" font-size="11" xml:space="preserve" >40</text>
<text x="1454.5" y="560.3" fill="#0000FF" text-anchor="start" font-size="11" xml:space="preserve" >30</text>
<text x="1454.5" y="632.3" fill="#0000FF" text-anchor="start" font-size="11" xml:space="preserve" >20</text>
<g class="c">
<rect x="1485" y="48" width="1" height="581" fill="#808080" />
<rect x="1481" y="71" width="9" height="1" fill="#808080" />
<rect x="1485" y="118" width="5" height="1" fill="#808080" />
<rect x="1485" y="164" width="5" height="1" fill="#808080" />
<rect x="1485" y="210" width="5" height="1" fill="#808080" />
<rect x="1485" y="257" width="5" height="1" fill="#808080" />
<rect x="1485" y="303" width="5" height="1" fill="#808080" />
<rect x="1485" y="350" width="5" height="1" fill="#808080" />
<rect x="1485" y="396" width="5" height="1" fill="#808080" />
<rect x="1485" y="442" width="5" height="1" fill="#808080" />
<rect x="1485" y="489" width="5" height="1" fill="#808080" />
<rect x="1485" y="535" width="5" height="1" fill="#808080" />
<rect x="1485" y="582" width="5" height="1" fill="#808080" />
<rect x="1481" y="628" width="9" height="1" fill="#808080" />
</g>
<text x="1491.5" y="75.3" fill="#0099FF" text-anchor="start" font-size="11" xml:space="preserve" >24.0</text>
<text x="1491.5" y="122.3" fill="#0099FF" text-anchor="start" font-size="11" xml:space="preserve" >22.0</text>
<text x="1491.5" y="168.3" fill="#0099FF" text-anchor="start" font-size="11" xml:space="preserve" >20.0</text>
<text x="1491.5" y="214.3" fill="#0099FF" text-anchor="start" font-size="11" xml:space="preserve" >18.0</text>
<text x="1491.5" y="261.3" fill="#0099FF" text-anchor="start" font-size="11" xml:space="preserve" >16.0</text>
<text x="1491.5" y="307.3" fill="#0099FF" text-anchor="start" font-size="11" xml:space="preserve" >14.0</text>
<text x="1491.5" y="354.3" fill="#0099FF" text-anchor="start" font-size="11" xml:space="preserve" >12.0</text>
<text x="1491.5" y="400.3" fill="#0099FF" text-anchor="start" font-size="11" xml:space="preserve" >10.0</text>
<text x="1491.5" y="446.3" fill="#0099FF" text-anchor="start" font-size="11" xml:space="preserve" >8.0</text>
<text x="1491.5" y="493.3" fill="#0099FF" text-anchor="start" font-size="11" xml:space="preserve" >6.0</text>
<text x="1491.5" y="539.3" fill="#0099FF" text-anchor="start" font-size="11" xml:space="preserve" >4.0</text>
<text x="1491.5" y="586.3" fill="#0099FF" text-anchor="start" font-size="11" xml:space="preserve" >2.0</text>
<text x="1491.5" y="632.3" fill="#0099FF" text-anchor="start" font-size="11" xml:space="preserve" >0.0</text>
<g class="c">
<rect x="1522" y="48" width="1" height="581" fill="#808080" />
<rect x="1518" y="48" width="9" height="1" fill="#808080" />
<rect x="1522" y="120" width="5" height="1" fill="#808080" />
<rect x="1522" y="193" width="5" height="1" fill="#808080" />
<rect x="1522" y="266" width="5" height="1" fill="#808080" />
<rect x="1522" y="338" width="5" height="1" fill="#808080" />
<rect x="1522" y="410" width="5" height="1" fill="#808080" />
<rect x="1522" y="483" width="5" height="1" fill="#808080" />
<rect x="1522" y="556" width="5" height="1" fill="#808080" />
<rect x="1518" y="628" width="9" height="1" fill="#808080" />
</g>
<text x="1528.5" y="52.3" fill="#000" text-anchor="start" font-size="11" xml:space="preserve" >360 N</text>
<text x="1528.5" y="124.3" fill="#000" text-anchor="start" font-size="11" xml:space="preserve" >315</text>
<text x="1528.5" y="197.3" fill="#000" text-anchor="start" font-size="11" xml:space="preserve" >270 W</text>
<text x="1528.5" y="270.3" fill="#000" text-anchor="start" font-size="11" xml:space="preserve" >225</text>
<text x="1528.5" y="342.3" fill="#000" text-anchor="start" font-size="11" xml:space="preserve" >180 S</text>
<text x="1528.5" y="414.3" fill="#000" text-anchor="start" font-size="11" xml:space="preserve" >135</text>
<text x="1528.5" y="487.3" fill="#000" text-anchor="start" font-size="11" xml:space="preserve" >90  O</text>
<text x="1528.5" y="560.3" fill="#000" text-anchor="start" font-size="11" xml:space="preserve" >45</text>
<text x="1528.5" y="632.3" fill="#000" text-anchor="start" font-size="11" xml:space="preserve" >0    N</text>
<g class="c">
<rect x="1559" y="48" width="1" height="581" fill="#808080" />
<rect x="1555" y="48" width="9" height="1" fill="#808080" />
<rect x="1559" y="120" width="5" height="1" fill="#808080" />
<rect x="1559" y="193" width="5" height="1" fill="#808080" />
<rect x="1559" y="266" width="5" height="1" fill="#808080" />
<rect x="1559" y="338" width="5" height="1" fill="#808080" />
<rect x="1559" y="410" width="5" height="1" fill="#808080" />
<rect x="1559" y="483" width="5" height="1" fill="#808080" />
<rect x="1559" y="556" width="5" height="1" fill="#808080" />
<rect x="1555" y="628" width="9" height="1" fill="#808080" />
</g>
<text x="1565.5" y="52.3" fill="#FF0080" text-anchor="start" font-size="11" xml:space="preserve" >16.0</text>
<text x="1565.5" y="124.3" fill="#FF0080" text-anchor="start" font-size="11" xml:space="preserve" >14.0</text>
<text x="1565.5" y="197.3" fill="#FF0080" text-anchor="start" font-size="11" xml:space="preserve" >12.0</text>
<text x="1565.5" y="270.3" fill="#FF0080" text-anchor="start" font-size="11" xml:space="preserve" >10.0</text>
<text x="1565.5" y="342.3" fill="#FF0080" text-anchor="start" font-size="11" xml:space="preserve" >8.0</text>
<text x="1565.5" y="414.3" fill="#FF0080" text-anchor="start" font-size="11" xml:space="preserve" >6.0</text>
<text x="1565.5" y="487.3" fill="#FF0080" text-anchor="start" font-size="11" xml:space="preserve" >4.0</text>
<text x="1565.5" y="560.3" fill="#FF0080" text-anchor="start" font-size="11" xml:space="preserve" >2.0</text>
<text x="1565.5" y="632.3" fill="#FF0080" text-anchor="start" font-size="11" xml:space="preserve" >0.0</text>
<text x="26" y="36.5" fill="#FF0000" text-anchor="middle" font-size="11" xml:space="preserve" >°C</text>
<text x="58" y="36.5" fill="#00AA00" text-anchor="middle" font-size="11" xml:space="preserve" >hPa</text>
<text x="92" y="36.5" fill="#000" text-anchor="middle" font-size="11" xml:space="preserve" >km/h</text>
<text x="133" y="36.5" fill="#FFC000" text-anchor="middle" font-size="11" xml:space="preserve" >min</text>
<text x="165" y="36.5" fill="#FF8000" text-anchor="middle" font-size="11" xml:space="preserve" >W/m²</text>
<text x="1449" y="36.5" fill="#0000FF" text-anchor="start" font-size="11" xml:space="preserve" >%</text>
<text x="1485" y="36.5" fill="#0099FF" text-anchor="start" font-size="11" xml:space="preserve" >l/m²</text>
<text x="1523" y="35.5" fill="#000" text-anchor="start" font-size="10" xml:space="preserve" >°</text>
<text x="1559" y="36.5" fill="#FF0080" text-anchor="start" font-size="11" xml:space="preserve" >UV-I</text>
<rect class="c" x="198.5" y="33.5" width="9" height="9" fill="#FF0000" stroke="#000" stroke-width="1"/>
<text x="212.6" y="42.3" fill="#FF0000" text-anchor="start" font-size="11" xml:space="preserve" >Temp. A.</text>
<rect class="c" x="293.5" y="33.5" width="9" height="9" fill="#0000FF" stroke="#000" stroke-width="1"/>
<text x="307.6" y="42.3" fill="#0000FF" text-anchor="start" font-size="11" xml:space="preserve" >Feuchte A.</text>
<rect class="c" x="388.5" y="33.5" width="9" height="9" fill="#00AA00" stroke="#000" stroke-width="1"/>
<text x="402.6" y="42.3" fill="#00AA00" text-anchor="start" font-size="11" xml:space="preserve" >Luftdruck</text>
<rect class="c" x="483.5" y="33.5" width="9" height="9" fill="#0099FF" stroke="#000" stroke-width="1"/>
<text x="497.6" y="42.3" fill="#0099FF" text-anchor="start" font-size="11" xml:space="preserve" >Regen</text>
<rect class="c" x="578.5" y="33.5" width="9" height="9" fill="#000" stroke="#000" stroke-width="1"/>
<text x="592.6" y="42.3" fill="#000" text-anchor="start" font-size="11" xml:space="preserve" >Wind</text>
<rect class="c" x="673.5" y="33.5" width="9" height="9" fill="#000" stroke="#000" stroke-width="1"/>
<text x="687.6" y="42.3" fill="#000" text-anchor="start" font-size="11" xml:space="preserve" >Richtung</text>
<rect class="c" x="768.5" y="33.5" width="9" height="9" fill="#FFC000" stroke="#000" stroke-width="1"/>
<text x="782.6" y="42.3" fill="#FFC000" text-anchor="start" font-size="11" xml:space="preserve" textLength="68.5" lengthAdjust="spacingAndGlyphs">Sonnenschein</text>
<rect class="c" x="863.5" y="33.5" width="9" height="9" fill="#800080" stroke="#000" stroke-width="1"/>
<text x="877.6" y="42.3" fill="#0099FF" text-anchor="start" font-size="11" xml:space="preserve" >ET</text>
<rect class="c" x="958.5" y="33.5" width="9" height="9" fill="#FF0080" stroke="#000" stroke-width="1"/>
<text x="972.6" y="42.3" fill="#FF0080" text-anchor="start" font-size="11" xml:space="preserve" >UV</text>
<rect class="c" x="1053.5" y="33.5" width="9" height="9" fill="#FF8000" stroke="#000" stroke-width="1"/>
<text x="1067.6" y="42.3" fill="#FF8000" text-anchor="start" font-size="11" xml:space="preserve" >Solar</text>
<rect class="c" x="1148.5" y="33.5" width="9" height="9" fill="#FF5500" stroke="#000" stroke-width="1"/>
<text x="1162.6" y="42.3" fill="#FF0000" text-anchor="start" font-size="11" xml:space="preserve" >Taupunkt</text>
<rect class="c" x="1243.5" y="33.5" width="9" height="9" fill="#804000" stroke="#000" stroke-width="1"/>
<text x="1257.6" y="42.3" fill="#000" text-anchor="start" font-size="11" xml:space="preserve" >Windböen</text>
<path class="c" d="M1338.5 43 V33.5 H1347.5 V42.5 H1343" fill="none" stroke="#FF0000" stroke-width="1"/>
<text x="1352.6" y="42.3" fill="#FF0000" text-anchor="start" font-size="11" xml:space="preserve" textLength="64" lengthAdjust="spacingAndGlyphs">14.9 Monat-Ø</text>
<text x="189" y="646" fill="#000" text-anchor="middle" font-size="11" xml:space="preserve" >00:00</text>
<rect x="188" y="628" width="1" height="5" fill="#808080" class="c"/>
<text x="241" y="646" fill="#000" text-anchor="middle" font-size="11" xml:space="preserve" >01:00</text>
<rect x="240" y="628" width="1" height="5" fill="#808080" class="c"/>
<text x="294" y="646" fill="#000" text-anchor="middle" font-size="11" xml:space="preserve" >02:00</text>
<rect x="293" y="628" width="1" height="5" fill="#808080" class="c"/>
<text x="347" y="646" fill="#000" text-anchor="middle" font-size="11" xml:space="preserve" >03:00</text>
<rect x="346" y="628" width="1" height="5" fill="#808080" class="c"/>
<text x="399" y="646" fill="#000" text-anchor="middle" font-size="11" xml:space="preserve" >04:00</text>
<rect x="398" y="628" width="1" height="5" fill="#808080" class="c"/>
<text x="451" y="646" fill="#000" text-anchor="middle" font-size="11" xml:space="preserve" >05:00</text>
<rect x="450" y="628" width="1" height="5" fill="#808080" class="c"/>
<text x="504" y="646" fill="#000" text-anchor="middle" font-size="11" xml:space="preserve" >06:00</text>
<rect x="503" y="628" width="1" height="5" fill="#808080" class="c"/>
<text x="557" y="646" fill="#000" text-anchor="middle" font-size="11" xml:space="preserve" >07:00</text>
<rect x="556" y="628" width="1" height="5" fill="#808080" class="c"/>
<text x="609" y="646" fill="#000" text-anchor="middle" font-size="11" xml:space="preserve" >08:00</text>
<rect x="608" y="628" width="1" height="5" fill="#808080" class="c"/>
<text x="661" y="646" fill="#000" text-anchor="middle" font-size="11" xml:space="preserve" >09:00</text>
<rect x="660" y="628" width="1" height="5" fill="#808080" class="c"/>
<text x="714" y="646" fill="#000" text-anchor="middle" font-size="11" xml:space="preserve" >10:00</text>
<rect x="713" y="628" width="1" height="5" fill="#808080" class="c"/>
<text x="767" y="646" fill="#000" text-anchor="middle" font-size="11" xml:space="preserve" >11:00</text>
<rect x="766" y="628" width="1" height="5" fill="#808080" class="c"/>
<text x="819" y="646" fill="#000" text-anchor="middle" font-size="11" xml:space="preserve" >12:00</text>
<rect x="818" y="628" width="1" height="5" fill="#808080" class="c"/>
<text x="871" y="646" fill="#000" text-anchor="middle" font-size="11" xml:space="preserve" >13:00</text>
<rect x="870" y="628" width="1" height="5" fill="#808080" class="c"/>
<text x="924" y="646" fill="#000" text-anchor="middle" font-size="11" xml:space="preserve" >14:00</text>
<rect x="923" y="628" width="1" height="5" fill="#808080" class="c"/>
<text x="977" y="646" fill="#000" text-anchor="middle" font-size="11" xml:space="preserve" >15:00</text>
<rect x="976" y="628" width="1" height="5" fill="#808080" class="c"/>
<text x="1029" y="646" fill="#000" text-anchor="middle" font-size="11" xml:space="preserve" >16:00</text>
<rect x="1028" y="628" width="1" height="5" fill="#808080" class="c"/>
<text x="1081" y="646" fill="#000" text-anchor="middle" font-size="11" xml:space="preserve" >17:00</text>
<rect x="1080" y="628" width="1" height="5" fill="#808080" class="c"/>
<text x="1134" y="646" fill="#000" text-anchor="middle" font-size="11" xml:space="preserve" >18:00</text>
<rect x="1133" y="628" width="1" height="5" fill="#808080" class="c"/>
<text x="1187" y="646" fill="#000" text-anchor="middle" font-size="11" xml:space="preserve" >19:00</text>
<rect x="1186" y="628" width="1" height="5" fill="#808080" class="c"/>
<text x="1239" y="646" fill="#000" text-anchor="middle" font-size="11" xml:space="preserve" >20:00</text>
<rect x="1238" y="628" width="1" height="5" fill="#808080" class="c"/>
<text x="1291" y="646" fill="#000" text-anchor="middle" font-size="11" xml:space="preserve" >21:00</text>
<rect x="1290" y="628" width="1" height="5" fill="#808080" class="c"/>
<text x="1344" y="646" fill="#000" text-anchor="middle" font-size="11" xml:space="preserve" >22:00</text>
<rect x="1343" y="628" width="1" height="5" fill="#808080" class="c"/>
<text x="1397" y="646" fill="#000" text-anchor="middle" font-size="11" xml:space="preserve" >23:00</text>
<rect x="1396" y="628" width="1" height="5" fill="#808080" class="c"/>
<text x="1449" y="646" fill="#000" text-anchor="middle" font-size="11" xml:space="preserve" >24:00</text>
<rect x="1448" y="628" width="1" height="5" fill="#808080" class="c"/>
<text x="10" y="657.4" fill="#000" text-anchor="start" font-size="11" xml:space="preserve" >16:16</text>
<path d="M40 657.2 L40 655 L41.5 652.5 L43.5 651 L45.5 651 L47.5 652.5 L49.2 655 L49.2 657.2 Z" fill="#FFFF00"/>
<text x="443.5" y="657.4" fill="#000" text-anchor="start" font-size="11" xml:space="preserve" >05:29</text>
<g stroke="#FFFF80" stroke-width="0.8" fill="none"><path d="M477 648.3V659.3M471.5 653.8H482.5M473.2 650L480.8 657.6M480.8 650L473.2 657.6"/><circle cx="477" cy="653.8" r="4.3"/></g><circle cx="477" cy="653.8" r="3" fill="#FFFF00"/>
<g class="c">
<rect x="476" y="624" width="2" height="13" fill="#FFFF00" />
<rect x="1330" y="624" width="2" height="13" fill="#FFFF00" />
</g>
<text x="1297.5" y="657.4" fill="#000" text-anchor="start" font-size="11" xml:space="preserve" >21:46</text>
<rect class="c" x="1328.5" y="651.5" width="5" height="5" fill="none" stroke="#FFFF00"/>
<rect x="1" y="668" width="1599" height="72" fill="#C0FFFF" class="c"/>
<g class="c">
<rect x="88" y="668" width="1" height="72" fill="#808080" />
<rect x="89" y="668" width="1" height="72" fill="#E8FFFF" />
<rect x="205" y="668" width="1" height="72" fill="#808080" />
<rect x="206" y="668" width="1" height="72" fill="#E8FFFF" />
<rect x="323" y="668" width="1" height="72" fill="#808080" />
<rect x="324" y="668" width="1" height="72" fill="#E8FFFF" />
<rect x="441" y="668" width="1" height="72" fill="#808080" />
<rect x="442" y="668" width="1" height="72" fill="#E8FFFF" />
<rect x="559" y="668" width="1" height="72" fill="#808080" />
<rect x="560" y="668" width="1" height="72" fill="#E8FFFF" />
<rect x="677" y="668" width="1" height="72" fill="#808080" />
<rect x="678" y="668" width="1" height="72" fill="#E8FFFF" />
<rect x="795" y="668" width="1" height="72" fill="#808080" />
<rect x="796" y="668" width="1" height="72" fill="#E8FFFF" />
<rect x="913" y="668" width="1" height="72" fill="#808080" />
<rect x="914" y="668" width="1" height="72" fill="#E8FFFF" />
</g>
<text x="8" y="686" fill="#000" text-anchor="start" font-size="11" font-weight="bold" xml:space="preserve" letter-spacing="0.5">Sensor</text>
<text x="8" y="702" fill="#000" text-anchor="start" font-size="11" font-weight="bold" xml:space="preserve" letter-spacing="0.5">MinWert</text>
<text x="8" y="718" fill="#000" text-anchor="start" font-size="11" font-weight="bold" xml:space="preserve" letter-spacing="0.5">MaxWert</text>
<text x="8" y="734" fill="#000" text-anchor="start" font-size="11" font-weight="bold" xml:space="preserve" letter-spacing="0.5">Durchschnitt</text>
<text x="95" y="686" fill="#000" text-anchor="start" font-size="11" font-weight="bold" xml:space="preserve" letter-spacing="0.5">Temp. A.</text>
<text x="199" y="686" fill="#000" text-anchor="end" font-size="11" font-weight="bold" xml:space="preserve" letter-spacing="0.5">°C</text>
<text x="100.5" y="702" fill="#000" text-anchor="start" font-size="11" xml:space="preserve" >02:12</text>
<text x="199" y="702" fill="#000" text-anchor="end" font-size="11" xml:space="preserve" >9.1</text>
<text x="100.5" y="718" fill="#000" text-anchor="start" font-size="11" xml:space="preserve" >17:06</text>
<text x="199" y="718" fill="#000" text-anchor="end" font-size="11" xml:space="preserve" >28.5</text>
<text x="100.5" y="734" fill="#000" text-anchor="start" font-size="11" xml:space="preserve" >(+ 4.05 )</text>
<text x="199" y="734" fill="#000" text-anchor="end" font-size="11" xml:space="preserve" >18.95</text>
<text x="212" y="686" fill="#000" text-anchor="start" font-size="11" font-weight="bold" xml:space="preserve" letter-spacing="0.5">Feuchte A.</text>
<text x="316" y="686" fill="#000" text-anchor="end" font-size="11" font-weight="bold" xml:space="preserve" letter-spacing="0.5">%</text>
<text x="217.5" y="702" fill="#000" text-anchor="start" font-size="11" xml:space="preserve" >12:18</text>
<text x="316" y="702" fill="#000" text-anchor="end" font-size="11" xml:space="preserve" >53</text>
<text x="217.5" y="718" fill="#000" text-anchor="start" font-size="11" xml:space="preserve" >05:51</text>
<text x="316" y="718" fill="#000" text-anchor="end" font-size="11" xml:space="preserve" >94</text>
<text x="316" y="734" fill="#000" text-anchor="end" font-size="11" xml:space="preserve" >77</text>
<text x="330" y="686" fill="#000" text-anchor="start" font-size="11" font-weight="bold" xml:space="preserve" letter-spacing="0.5">Luftdruck</text>
<text x="434" y="686" fill="#000" text-anchor="end" font-size="11" font-weight="bold" xml:space="preserve" letter-spacing="0.5">hPa</text>
<text x="335.5" y="702" fill="#000" text-anchor="start" font-size="11" xml:space="preserve" >22:18</text>
<text x="434" y="702" fill="#000" text-anchor="end" font-size="11" xml:space="preserve" >1003.3</text>
<text x="335.5" y="718" fill="#000" text-anchor="start" font-size="11" xml:space="preserve" >00:00</text>
<text x="434" y="718" fill="#000" text-anchor="end" font-size="11" xml:space="preserve" >1017.0</text>
<text x="330" y="734" fill="#000" text-anchor="start" font-size="11" xml:space="preserve" >^3.8hPa/h</text>
<text x="434" y="734" fill="#000" text-anchor="end" font-size="11" xml:space="preserve" >1011.7</text>
<text x="448" y="686" fill="#000" text-anchor="start" font-size="11" font-weight="bold" xml:space="preserve" letter-spacing="0.5">Regen</text>
<text x="552" y="686" fill="#000" text-anchor="end" font-size="11" font-weight="bold" xml:space="preserve" letter-spacing="0.5">l/m²</text>
<text x="453.5" y="718" fill="#000" text-anchor="start" font-size="11" xml:space="preserve" >22:36</text>
<text x="552" y="718" fill="#000" text-anchor="end" font-size="11" xml:space="preserve" >6.4</text>
<text x="448" y="734" fill="#000" text-anchor="start" font-size="11" xml:space="preserve" >Gesamt:</text>
<text x="552" y="734" fill="#000" text-anchor="end" font-size="11" xml:space="preserve" >24.8</text>
<text x="566" y="686" fill="#000" text-anchor="start" font-size="11" font-weight="bold" xml:space="preserve" letter-spacing="0.5">Wind</text>
<text x="670" y="686" fill="#000" text-anchor="end" font-size="11" font-weight="bold" xml:space="preserve" letter-spacing="0.5">km/h</text>
<text x="566" y="702" fill="#000" text-anchor="start" font-size="11" xml:space="preserve"  textLength="44.5" lengthAdjust="spacingAndGlyphs">Ø 10 min.</text>
<text x="670" y="702" fill="#000" text-anchor="end" font-size="11" xml:space="preserve" >7.3</text>
<text x="571.5" y="718" fill="#000" text-anchor="start" font-size="11" xml:space="preserve" >22:30</text>
<text x="670" y="718" fill="#000" text-anchor="end" font-size="11" xml:space="preserve" >S-SW 33.9</text>
<text x="670" y="734" fill="#000" text-anchor="end" font-size="11" xml:space="preserve" >3.4</text>
<text x="684" y="686" fill="#000" text-anchor="start" font-size="11" font-weight="bold" xml:space="preserve" letter-spacing="0.5">Windböen</text>
<text x="788" y="686" fill="#000" text-anchor="end" font-size="11" font-weight="bold" xml:space="preserve" letter-spacing="0.5">km/h</text>
<text x="684" y="702" fill="#000" text-anchor="start" font-size="11" xml:space="preserve"  textLength="44.5" lengthAdjust="spacingAndGlyphs">Ø 10 min.</text>
<text x="788" y="702" fill="#000" text-anchor="end" font-size="11" xml:space="preserve" >14.9</text>
<text x="689.5" y="718" fill="#000" text-anchor="start" font-size="11" xml:space="preserve" >22:30</text>
<text x="788" y="718" fill="#000" text-anchor="end" font-size="11" xml:space="preserve" >W-SW 69.2</text>
<text x="788" y="734" fill="#000" text-anchor="end" font-size="11" xml:space="preserve" >6.2</text>
<text x="802" y="686" fill="#000" text-anchor="start" font-size="11" font-weight="bold" xml:space="preserve" letter-spacing="0.5">Solar</text>
<text x="906" y="686" fill="#000" text-anchor="end" font-size="11" font-weight="bold" xml:space="preserve" letter-spacing="0.5">W/m²</text>
<text x="802" y="702" fill="#000" text-anchor="start" font-size="11" xml:space="preserve" >Elevation</text>
<text x="906" y="702" fill="#000" text-anchor="end" font-size="11" xml:space="preserve" >-13.650</text>
<text x="807.5" y="718" fill="#000" text-anchor="start" font-size="11" xml:space="preserve" >13:45</text>
<text x="906" y="718" fill="#000" text-anchor="end" font-size="11" xml:space="preserve" >769</text>
<text x="802" y="734" fill="#000" text-anchor="start" font-size="11" xml:space="preserve" >9:15 h</text>
<text x="906" y="734" fill="#000" text-anchor="end" font-size="11" xml:space="preserve" >232</text>
<text x="920" y="686" fill="#000" text-anchor="start" font-size="11" font-weight="bold" xml:space="preserve" letter-spacing="0.5">UV</text>
<text x="1022" y="686" fill="#000" text-anchor="end" font-size="11" font-weight="bold" xml:space="preserve" letter-spacing="0.5">UV-I</text>
<text x="925.5" y="702" fill="#000" text-anchor="start" font-size="11" xml:space="preserve" >00:00</text>
<text x="1022" y="702" fill="#000" text-anchor="end" font-size="11" xml:space="preserve" >0.0</text>
<text x="925.5" y="718" fill="#000" text-anchor="start" font-size="11" xml:space="preserve" >13:27</text>
<text x="1022" y="718" fill="#000" text-anchor="end" font-size="11" xml:space="preserve" >4.9</text>
<text x="1022" y="734" fill="#000" text-anchor="end" font-size="11" xml:space="preserve" >2.7</text>
</svg></body></html>
